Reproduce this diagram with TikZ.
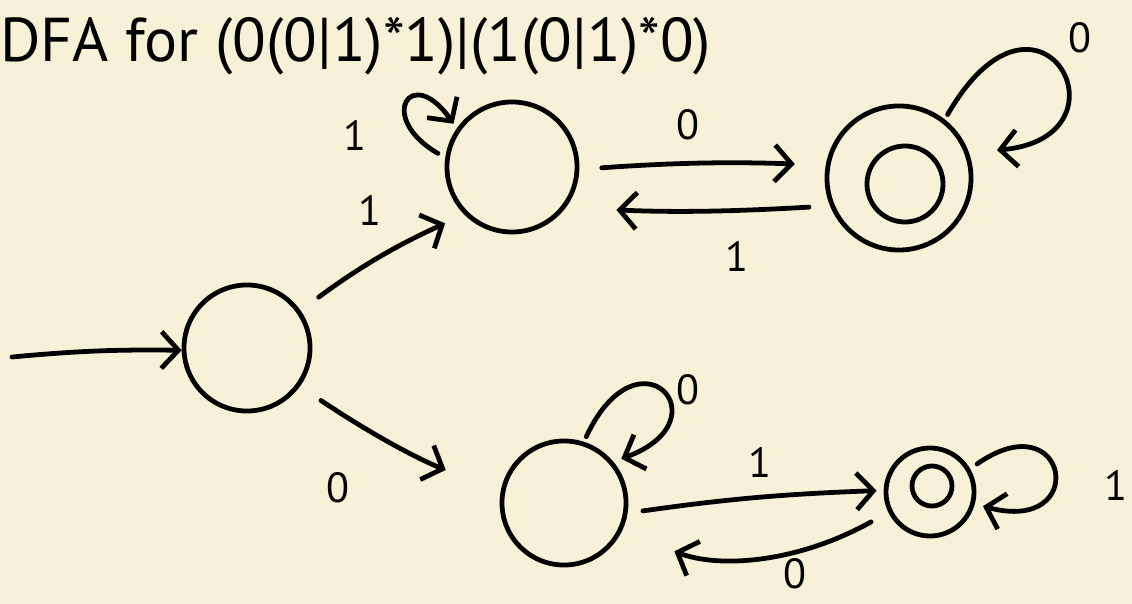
\documentclass[tikz,border=0pt]{standalone}
\usepackage{fontspec}
\setmainfont{PT Sans}
\usetikzlibrary{arrows.meta,positioning}
\definecolor{cream}{RGB}{247,242,215}
\begin{document}
\begin{tikzpicture}[
  x=0.025cm, y=-0.025cm,
  dfastate/.style={circle, draw, line width=3.4pt, inner sep=0pt},
  arrow/.style={-{Straight Barb[length=12pt, width=26pt]}, line width=3.4pt, line cap=round},
  lbl/.style={font=\fontsize{30}{30}\selectfont, inner sep=0pt}
]
  \fill[cream] (0,0) rectangle (1132,604);
  \useasboundingbox (0,0) rectangle (1132,604);
  \node[anchor=base west, inner sep=0pt, font=\fontsize{44}{44}\selectfont] (title) at (0,62) {DFA for (0(0|1)*1)|(1(0|1)*0)};

  % states
  \node[dfastate, minimum size=3.15cm] (q0) at (247,348) {};
  \node[dfastate, minimum size=3.25cm] (q1) at (512,167) {};
  \node[dfastate, minimum size=3.6cm] (q2) at (899,178) {};
  \node[dfastate, minimum size=1.9cm] (q2in) at (905,184) {};
  \node[dfastate, minimum size=3.1cm] (q3) at (564,503) {};
  \node[dfastate, minimum size=2.2cm] (q4) at (930,492) {};
  \node[dfastate, minimum size=1.0cm] (q4in) at (932,486) {};

  % start arrow
  \coordinate (start) at (12,357);
  \draw[arrow] (start) to[bend left=3] (q0.182);

  % transitions
  \draw[arrow, shorten <=16pt, shorten >=15pt] (q0.35) to[bend left=6] (q1.225);
  \draw[arrow, shorten <=18pt, shorten >=42pt] (q0.-36) to[bend right=6] (q3.170);
  \draw[arrow, shorten <=16pt, shorten >=22pt] (q1.-2) to[bend left=3] (q2.170);
  \draw[arrow, shorten <=15pt, shorten >=36pt] (q2.202) to[bend left=3] (q1.-37);
  \draw[arrow, shorten <=11pt, shorten >=5pt] (q3.-9) to[bend left=3] (q4.178);
  \draw[arrow, shorten <=14pt, shorten >=40pt] (q4.206) to[bend left=25] (q3.-26);

  % self loops (y axis points down, so control angles are mirrored)
  \draw[arrow, shorten <=6pt, shorten >=4pt] (q1.172) .. controls +(-150:80) and +(-125:80) .. (q1.145);
  \draw[arrow, shorten <=4pt, shorten >=20pt] (q2.52) .. controls +(-60:190) and +(-5:170) .. (q2.20);
  \draw[arrow, shorten <=4pt, shorten >=6pt] (q3.72) .. controls +(-65:130) and +(-20:120) .. (q3.40);
  \draw[arrow, shorten <=6pt, shorten >=6pt] (q4.30) .. controls +(-35:120) and +(15:120) .. (q4.-15);

  % labels
  \node[lbl] (l01) at (370,210) {1};
  \node[lbl] (l03) at (338,488) {0};
  \node[lbl] (l11) at (355,135) {1};
  \node[lbl] (l12) at (688,125) {0};
  \node[lbl] (l21) at (737,256) {1};
  \node[lbl] (l22) at (1080,38) {0};
  \node[lbl] (l33) at (688,390) {0};
  \node[lbl] (l34) at (760,462) {1};
  \node[lbl] (l43) at (795,574) {0};
  \node[lbl] (l44) at (1116,485) {1};
\end{tikzpicture}
\end{document}
